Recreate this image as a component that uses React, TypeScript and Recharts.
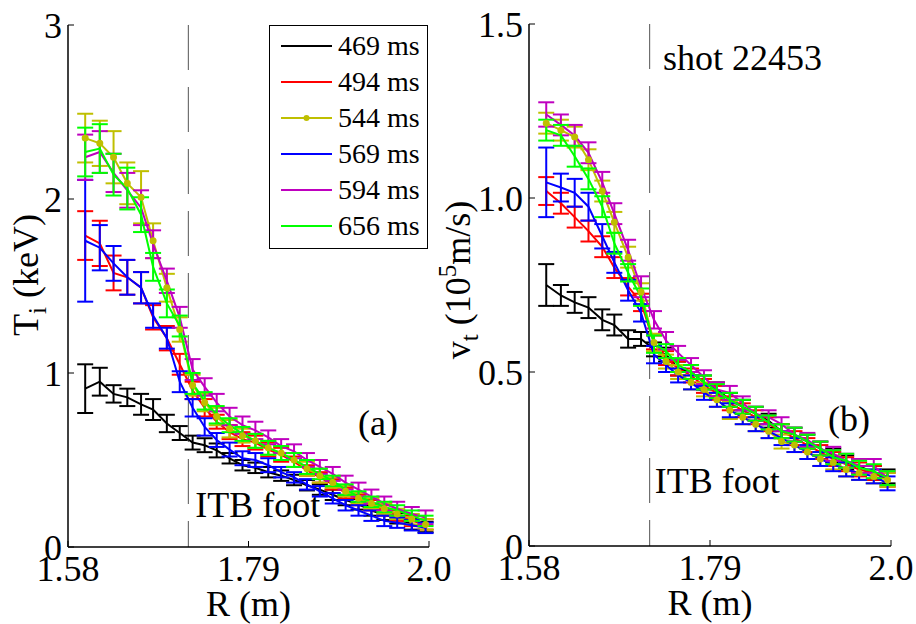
import { ErrorBar, Legend, Line, LineChart, ReferenceLine, XAxis, YAxis } from "recharts";

const FONT = "Liberation Serif";
const serif = { fontFamily: FONT };

// major radius of the CXRS channels (m)
const radius = [
  1.6, 1.617, 1.633, 1.649, 1.665, 1.679, 1.695, 1.71, 1.725, 1.739, 1.753, 1.768, 1.783, 1.798,
  1.813, 1.828, 1.843, 1.858, 1.873, 1.888, 1.903, 1.918, 1.933, 1.948, 1.963, 1.98, 1.996
];
const times = ["469 ms", "494 ms", "544 ms", "569 ms", "594 ms", "656 ms"];
const colors = ["#000000", "#ff0000", "#bfbf00", "#0000ff", "#bf00bf", "#00ff00"];

// ion temperature Ti (keV)
const ti469 = [0.91, 0.95, 0.88, 0.86, 0.82, 0.79, 0.71, 0.655, 0.6, 0.585, 0.555, 0.51, 0.47, 0.455, 0.43, 0.41, 0.385, 0.355, 0.33, 0.3, 0.27, 0.245, 0.21, 0.185, 0.165, 0.13, 0.115];
const ti494 = [1.79, 1.745, 1.575, 1.55, 1.49, 1.32, 1.2, 1.05, 0.9, 0.8, 0.72, 0.66, 0.62, 0.6, 0.56, 0.53, 0.49, 0.44, 0.4, 0.36, 0.31, 0.27, 0.24, 0.21, 0.18, 0.15, 0.13];
const ti544 = [2.35, 2.32, 2.24, 2.09, 2.01, 1.76, 1.49, 1.25, 0.93, 0.83, 0.75, 0.68, 0.64, 0.61, 0.57, 0.54, 0.5, 0.45, 0.41, 0.37, 0.32, 0.28, 0.25, 0.22, 0.19, 0.16, 0.13];
const ti569 = [1.76, 1.72, 1.63, 1.55, 1.49, 1.33, 1.2, 0.95, 0.8, 0.69, 0.615, 0.56, 0.51, 0.5, 0.47, 0.43, 0.4, 0.36, 0.32, 0.28, 0.24, 0.21, 0.18, 0.15, 0.14, 0.125, 0.11];
const ti594 = [2.24, 2.27, 2.15, 2.05, 1.95, 1.74, 1.53, 1.32, 1.02, 0.92, 0.83, 0.75, 0.7, 0.67, 0.63, 0.58, 0.55, 0.5, 0.46, 0.42, 0.37, 0.33, 0.29, 0.25, 0.22, 0.19, 0.17];
const ti656 = [2.27, 2.29, 2.14, 2.06, 1.91, 1.61, 1.4, 1.27, 0.94, 0.84, 0.76, 0.7, 0.65, 0.61, 0.57, 0.54, 0.5, 0.46, 0.42, 0.38, 0.33, 0.29, 0.26, 0.23, 0.21, 0.18, 0.15];

const tiErr469 = [0.14, 0.08, 0.05, 0.05, 0.06, 0.06, 0.05, 0.04, 0.04, 0.04, 0.04, 0.03, 0.03, 0.03, 0.03, 0.03, 0.03, 0.03, 0.03, 0.03, 0.03, 0.03, 0.03, 0.03, 0.03, 0.03, 0.03];
const tiErr494 = [0.14, 0.13, 0.1, 0.1, 0.09, 0.07, 0.07, 0.06, 0.05, 0.05, 0.04, 0.04, 0.04, 0.04, 0.04, 0.04, 0.03, 0.03, 0.03, 0.03, 0.03, 0.03, 0.03, 0.03, 0.03, 0.03, 0.03];
const tiErr544 = [0.14, 0.13, 0.15, 0.12, 0.15, 0.1, 0.08, 0.07, 0.06, 0.05, 0.05, 0.05, 0.04, 0.04, 0.04, 0.04, 0.04, 0.04, 0.04, 0.03, 0.03, 0.03, 0.03, 0.03, 0.03, 0.03, 0.03];
const tiErr569 = [0.35, 0.13, 0.1, 0.1, 0.09, 0.07, 0.06, 0.06, 0.05, 0.05, 0.04, 0.04, 0.04, 0.04, 0.04, 0.03, 0.03, 0.03, 0.03, 0.03, 0.03, 0.03, 0.03, 0.03, 0.03, 0.03, 0.03];
const tiErr594 = [0.13, 0.12, 0.11, 0.1, 0.1, 0.08, 0.07, 0.06, 0.06, 0.05, 0.05, 0.05, 0.05, 0.05, 0.04, 0.04, 0.04, 0.04, 0.04, 0.04, 0.04, 0.04, 0.04, 0.04, 0.04, 0.04, 0.04];
const tiErr656 = [0.14, 0.14, 0.12, 0.12, 0.1, 0.08, 0.08, 0.06, 0.06, 0.05, 0.05, 0.04, 0.04, 0.04, 0.04, 0.04, 0.04, 0.04, 0.03, 0.03, 0.03, 0.03, 0.03, 0.03, 0.03, 0.03, 0.03];

// toroidal rotation vt (10^5 m/s)
const vt469 = [0.75, 0.72, 0.7, 0.685, 0.65, 0.635, 0.595, 0.595, 0.565, 0.55, 0.51, 0.5, 0.47, 0.45, 0.42, 0.4, 0.38, 0.36, 0.33, 0.32, 0.3, 0.28, 0.26, 0.24, 0.23, 0.21, 0.2];
const vt494 = [1.02, 0.985, 0.945, 0.905, 0.86, 0.8, 0.745, 0.7, 0.585, 0.54, 0.51, 0.49, 0.46, 0.44, 0.41, 0.39, 0.37, 0.35, 0.33, 0.31, 0.29, 0.27, 0.25, 0.235, 0.22, 0.21, 0.19];
const vt544 = [1.215, 1.195, 1.175, 1.11, 1.02, 0.93, 0.83, 0.73, 0.585, 0.53, 0.5, 0.47, 0.45, 0.42, 0.39, 0.37, 0.35, 0.33, 0.3, 0.29, 0.27, 0.25, 0.24, 0.22, 0.21, 0.2, 0.19];
const vt569 = [1.045, 1.03, 1.015, 0.975, 0.89, 0.815, 0.735, 0.67, 0.55, 0.52, 0.49, 0.47, 0.44, 0.42, 0.39, 0.37, 0.35, 0.33, 0.31, 0.29, 0.27, 0.25, 0.235, 0.22, 0.21, 0.2, 0.18];
const vt594 = [1.24, 1.21, 1.18, 1.13, 1.045, 0.955, 0.85, 0.745, 0.65, 0.59, 0.555, 0.52, 0.485, 0.45, 0.44, 0.41, 0.38, 0.37, 0.35, 0.32, 0.305, 0.28, 0.265, 0.245, 0.23, 0.23, 0.195];
const vt656 = [1.195, 1.18, 1.12, 1.055, 0.975, 0.87, 0.785, 0.715, 0.58, 0.56, 0.52, 0.5, 0.47, 0.445, 0.42, 0.4, 0.38, 0.355, 0.33, 0.32, 0.3, 0.28, 0.255, 0.245, 0.225, 0.215, 0.195];

const vtErr469 = [0.06, 0.03, 0.03, 0.03, 0.03, 0.03, 0.025, 0.02, 0.02, 0.02, 0.02, 0.02, 0.02, 0.02, 0.02, 0.02, 0.02, 0.02, 0.02, 0.02, 0.02, 0.02, 0.02, 0.02, 0.02, 0.02, 0.02];
const vtErr494 = [0.04, 0.03, 0.03, 0.03, 0.03, 0.03, 0.025, 0.025, 0.02, 0.02, 0.02, 0.02, 0.02, 0.02, 0.02, 0.02, 0.02, 0.02, 0.02, 0.02, 0.02, 0.02, 0.02, 0.02, 0.02, 0.02, 0.02];
const vtErr544 = [0.03, 0.03, 0.03, 0.03, 0.03, 0.03, 0.03, 0.025, 0.025, 0.02, 0.02, 0.02, 0.02, 0.02, 0.025, 0.02, 0.02, 0.02, 0.02, 0.02, 0.02, 0.02, 0.02, 0.02, 0.02, 0.02, 0.02];
const vtErr569 = [0.1, 0.04, 0.04, 0.04, 0.035, 0.03, 0.03, 0.025, 0.025, 0.02, 0.02, 0.02, 0.02, 0.02, 0.02, 0.02, 0.02, 0.02, 0.02, 0.02, 0.02, 0.02, 0.02, 0.02, 0.02, 0.02, 0.02];
const vtErr594 = [0.035, 0.03, 0.03, 0.03, 0.03, 0.03, 0.03, 0.03, 0.025, 0.025, 0.02, 0.02, 0.02, 0.02, 0.02, 0.02, 0.02, 0.02, 0.02, 0.02, 0.02, 0.02, 0.02, 0.02, 0.02, 0.02, 0.02];
const vtErr656 = [0.03, 0.03, 0.03, 0.03, 0.03, 0.03, 0.025, 0.025, 0.025, 0.02, 0.02, 0.02, 0.02, 0.02, 0.02, 0.02, 0.02, 0.02, 0.02, 0.02, 0.02, 0.02, 0.02, 0.02, 0.02, 0.02, 0.02];

const rTicks = [1.58, 1.79, 2.0];
const tiTicks = [0, 1, 2, 3];
const vtTicks = [0, 0.5, 1, 1.5];
const itbFoot = 1.72;

function buildRows(values: number[][], errors: number[][]) {
  return radius.map((r, i) => {
    const row: Record<string, number> = { r };
    values.forEach((v, k) => {
      row[`s${k}`] = v[i];
      row[`e${k}`] = errors[k][i];
    });
    return row;
  });
}

const tiRows = buildRows(
  [ti469, ti494, ti544, ti569, ti594, ti656],
  [tiErr469, tiErr494, tiErr544, tiErr569, tiErr594, tiErr656]
);
const vtRows = buildRows(
  [vt469, vt494, vt544, vt569, vt594, vt656],
  [vtErr469, vtErr494, vtErr544, vtErr569, vtErr594, vtErr656]
);

const tickFont = { fill: "#000", fontSize: 36, fontFamily: FONT, style: serif };
const frame = { stroke: "#000", strokeWidth: 1.5 };

function series() {
  return times.map((t, k) => (
    <Line
      key={t}
      type="linear"
      dataKey={`s${k}`}
      name={t}
      stroke={colors[k]}
      strokeWidth={2}
      dot={k === 2 ? { r: 2.5, fill: colors[k], stroke: colors[k] } : false}
      activeDot={false}
      isAnimationActive={false}
    >
      <ErrorBar dataKey={`e${k}`} direction="y" width={8} stroke={colors[k]} strokeWidth={2} isAnimationActive={false} />
    </Line>
  ));
}

function LegendBox() {
  return (
    <div style={{ border: "1px solid #000", background: "#fff", padding: "2px 0 4px 11px", fontFamily: FONT, fontSize: 28 }}>
      {times.map((t, k) => (
        <div key={t} style={{ display: "flex", alignItems: "center", height: 36 }}>
          <svg width={51} height={10} style={{ marginRight: 6 }}>
            <line x1={0} x2={51} y1={5} y2={5} stroke={colors[k]} strokeWidth={2} />
            {k === 2 && <circle cx={25.5} cy={5} r={3} fill={colors[k]} />}
          </svg>
          <span style={{ lineHeight: "36px", fontFamily: FONT, fontSize: 28, color: "#000" }}>{t}</span>
        </div>
      ))}
    </div>
  );
}

function axes(yDomain: number[], yTicks: number[], yFmt: (v: number) => string, yWidth: number, yLabel: any, xHeight: number) {
  return [
    <XAxis
      key="xb"
      type="number"
      dataKey="r"
      domain={[1.58, 2.0]}
      ticks={rTicks}
      tickFormatter={(v: number) => (v === 2 ? "2.0" : v.toFixed(2))}
      tickSize={-6}
      tickMargin={14}
      height={xHeight}
      axisLine={frame}
      tickLine={{ stroke: "#000" }}
      tick={tickFont}
      allowDataOverflow
      label={({ viewBox }: any) => (
        <text x={viewBox.x + viewBox.width / 2} y={viewBox.y + 69} textAnchor="middle" fontSize={36} fill="#000" style={serif}>
          R (m)
        </text>
      )}
    />,
    <XAxis
      key="xt"
      xAxisId="top"
      orientation="top"
      type="number"
      dataKey="r"
      domain={[1.58, 2.0]}
      ticks={rTicks}
      tickSize={-6}
      height={0}
      axisLine={frame}
      tickLine={{ stroke: "#000" }}
      tick={false}
      allowDataOverflow
    />,
    <YAxis
      key="yl"
      type="number"
      domain={yDomain}
      ticks={yTicks}
      tickFormatter={yFmt}
      tickSize={-6}
      tickMargin={12}
      width={yWidth}
      axisLine={frame}
      tickLine={{ stroke: "#000" }}
      tick={tickFont}
      allowDataOverflow
      label={yLabel}
    />,
    <YAxis
      key="yr"
      yAxisId="right"
      orientation="right"
      type="number"
      domain={yDomain}
      ticks={yTicks}
      tickSize={-6}
      width={0}
      axisLine={frame}
      tickLine={{ stroke: "#000" }}
      tick={false}
      allowDataOverflow
    />
  ];
}

function itbLabel(dx: number, baseline: number) {
  return ({ viewBox }: any) => (
    <text x={viewBox.x + dx} y={viewBox.y + baseline} fontSize={36} fill="#000" style={serif}>
      ITB foot
    </text>
  );
}

export default function App() {
  const tiTitle = ({ viewBox }: any) => {
    const cy = viewBox.y + viewBox.height / 2 - 11;
    return (
      <text transform={`translate(${viewBox.x + 38},${cy}) rotate(-90)`} textAnchor="middle" fontSize={36} fill="#000" style={serif}>
        T<tspan dy={8} fontSize={25}>i</tspan>
        <tspan dy={-8}> (keV)</tspan>
      </text>
    );
  };
  const vtTitle = ({ viewBox }: any) => {
    const cy = viewBox.y + viewBox.height / 2 - 5;
    return (
      <text transform={`translate(${viewBox.x + 40},${cy}) rotate(-90)`} textAnchor="middle" fontSize={36} fill="#000" style={serif}>
        v<tspan dy={8} fontSize={25}>t</tspan>
        <tspan dy={-8}> (10</tspan>
        <tspan dy={-14} fontSize={25}>5</tspan>
        <tspan dy={14}>m/s)</tspan>
      </text>
    );
  };

  return (
    <div style={{ position: "absolute", left: 0, top: 0, width: 916, height: 624, background: "#fff", fontFamily: FONT }}>
      <div style={{ position: "absolute", left: 0, top: 0 }}>
        <LineChart width={460} height={624} data={tiRows} margin={{ top: 25, right: 31, bottom: 0, left: 0 }} style={serif}>
          {axes([0, 3], tiTicks, (v) => String(v), 68, tiTitle, 77)}
          <ReferenceLine
            segment={[{ x: itbFoot, y: 3 }, { x: itbFoot, y: 0 }]}
            stroke="#555"
            strokeWidth={1}
            strokeDasharray="45 17"
            label={itbLabel(7, 492)}
          />
          {series()}
          <Legend
            layout="vertical"
            align="center"
            verticalAlign="middle"
            content={() => <LegendBox />}
            wrapperStyle={{ left: 269, top: 25, width: 159 }}
          />
        </LineChart>
      </div>
      <div style={{ position: "absolute", left: 430, top: 0 }}>
        <LineChart width={486} height={624} data={vtRows} margin={{ top: 24, right: 25, bottom: 0, left: 0 }} style={serif}>
          {axes([0, 1.5], vtTicks, (v) => (v === 0 ? "0" : v.toFixed(1)), 99, vtTitle, 78)}
          <ReferenceLine
            segment={[{ x: itbFoot, y: 1.5 }, { x: itbFoot, y: 0 }]}
            stroke="#555"
            strokeWidth={1}
            strokeDasharray="45 17"
            label={itbLabel(5, 469)}
          />
          {series()}
        </LineChart>
      </div>
      <svg width={916} height={624} style={{ position: "absolute", left: 0, top: 0, pointerEvents: "none" }}>
        <text x={378} y={435} textAnchor="middle" fontSize={36} fill="#000" style={serif}>(a)</text>
        <text x={849} y={431} textAnchor="middle" fontSize={36} fill="#000" style={serif}>(b)</text>
        <text x={663} y={70} fontSize={36} fill="#000" style={serif}>shot 22453</text>
      </svg>
    </div>
  );
}
